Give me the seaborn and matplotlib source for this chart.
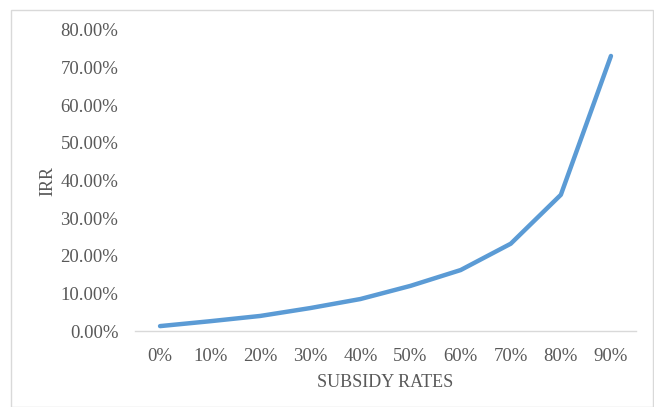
import matplotlib
matplotlib.use("Agg")
import matplotlib.pyplot as plt
import seaborn as sns
import pandas as pd
from matplotlib.patches import Rectangle
from matplotlib.ticker import FuncFormatter

# values
subsidy = ['0%', '10%', '20%', '30%', '40%', '50%', '60%', '70%', '80%', '90%']
irr = [1.3, 2.6, 4.0, 6.1, 8.5, 12.0, 16.2, 23.2, 36.2, 73.1]

df = pd.DataFrame({'pos': range(len(subsidy)), 'irr': irr})

sns.set_style('white')
plt.rcParams['font.family'] = ['Liberation Serif', 'DejaVu Serif']
grey = '#595959'

fig = plt.figure(figsize=(6.54, 4.07), dpi=100)
ax = fig.add_axes([135/654, 1-331/407, (636-135)/654, (331-30)/407])

sns.lineplot(data=df, x='pos', y='irr', ax=ax, color='#5B9BD5', linewidth=3.2,
             solid_capstyle='round', solid_joinstyle='round')

ax.set_xlim(-0.5, 9.5)
ax.set_ylim(0, 80)
ax.set_xticks(range(len(subsidy)))
ax.set_xticklabels(subsidy)
ax.set_yticks(range(0, 81, 10))
ax.yaxis.set_major_formatter(FuncFormatter(lambda v, p: f'{v:.2f}%'))
ax.tick_params(axis='both', length=0, labelsize=13.5, colors=grey)
ax.tick_params(axis='x', pad=12)
ax.tick_params(axis='y', pad=12)

for s in ['top', 'right', 'left']:
    ax.spines[s].set_visible(False)
ax.spines['bottom'].set_color('#D9D9D9')
ax.spines['bottom'].set_linewidth(1)

ax.set_xlabel('SUBSIDY RATES', fontsize=13, color=grey, labelpad=7)
ax.set_ylabel('IRR', fontsize=13, color=grey, labelpad=3)

fig.patches.append(Rectangle((11/654, 0), 642/654, 1-10/407, transform=fig.transFigure,
                             fill=False, edgecolor='#D9D9D9', linewidth=1))

fig.savefig('out.png', dpi=100)
